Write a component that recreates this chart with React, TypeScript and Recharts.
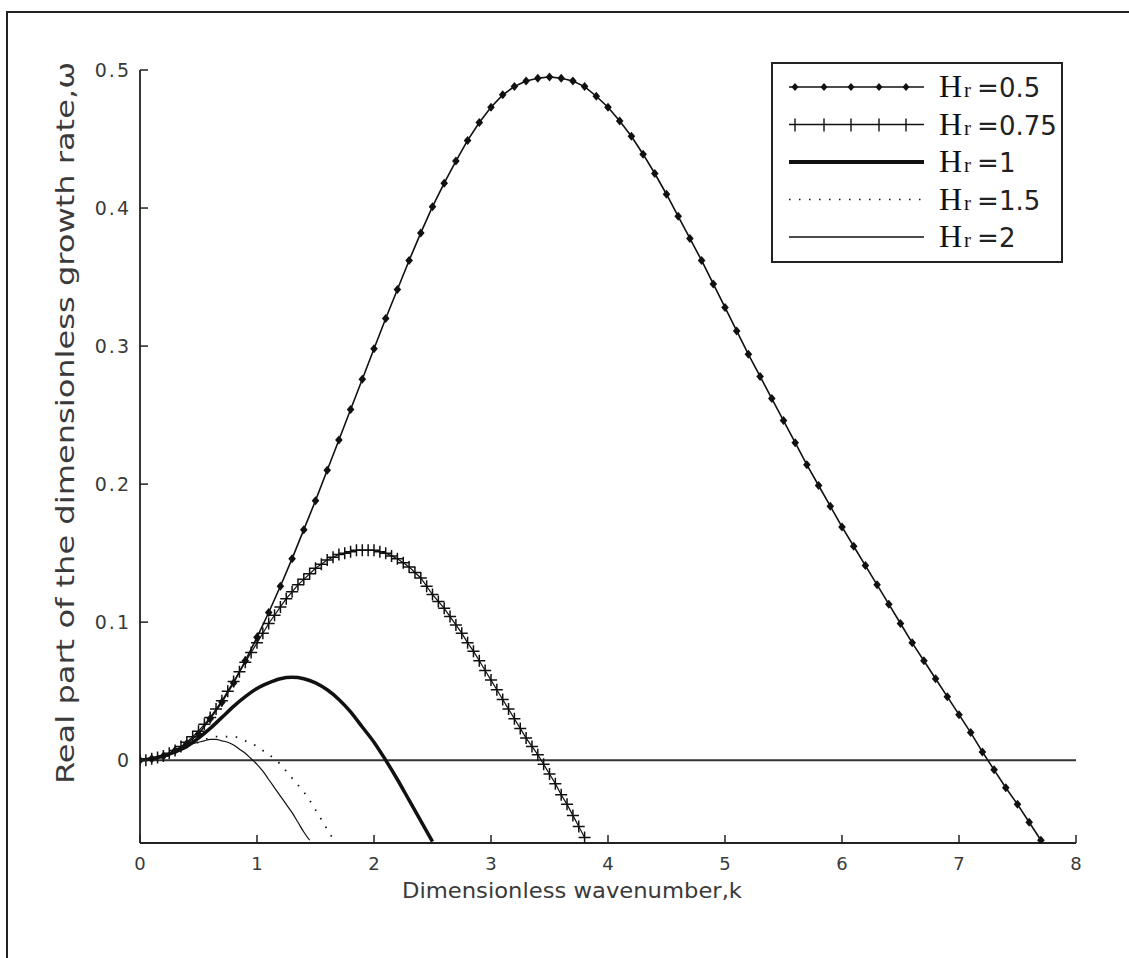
import React from "react";
import { LineChart, Line, XAxis, YAxis, ReferenceLine, Legend, Label } from "recharts";

// wavenumber grids, one per curve
const kH050 = [
  0, 0.1, 0.2, 0.3, 0.4, 0.5, 0.6, 0.7, 0.8, 0.9, 1, 1.1, 1.2, 1.3, 1.4, 1.5, 1.6, 1.7, 1.8, 1.9,
  2, 2.1, 2.2, 2.3, 2.4, 2.5, 2.6, 2.7, 2.8, 2.9, 3, 3.1, 3.2, 3.3, 3.4, 3.5, 3.6, 3.7, 3.8, 3.9,
  4, 4.1, 4.2, 4.3, 4.4, 4.5, 4.6, 4.7, 4.8, 4.9, 5, 5.1, 5.2, 5.3, 5.4, 5.5, 5.6, 5.7, 5.8, 5.9,
  6, 6.1, 6.2, 6.3, 6.4, 6.5, 6.6, 6.7, 6.8, 6.9, 7, 7.1, 7.2, 7.3, 7.4, 7.5, 7.6, 7.7,
];
const omegaH050 = [
  0, 0.001, 0.003, 0.007, 0.012, 0.019, 0.03, 0.042, 0.056, 0.072, 0.089, 0.107, 0.126, 0.146, 0.167, 0.188, 0.21, 0.232, 0.254, 0.276,
  0.298, 0.32, 0.341, 0.362, 0.382, 0.401, 0.418, 0.434, 0.449, 0.462, 0.473, 0.482, 0.488, 0.492, 0.494, 0.495, 0.494, 0.492, 0.488, 0.481,
  0.473, 0.463, 0.452, 0.439, 0.425, 0.41, 0.394, 0.378, 0.362, 0.345, 0.328, 0.311, 0.294, 0.278, 0.262, 0.246, 0.23, 0.214, 0.199, 0.184,
  0.169, 0.155, 0.141, 0.127, 0.113, 0.099, 0.085, 0.072, 0.059, 0.046, 0.033, 0.02, 0.006, -0.007, -0.02, -0.032, -0.045, -0.058,
];

const kH075 = [
  0, 0.05, 0.1, 0.15, 0.2, 0.25, 0.3, 0.35, 0.4, 0.45, 0.5, 0.55, 0.6, 0.65, 0.7, 0.75, 0.8, 0.85, 0.9, 0.95,
  1, 1.05, 1.1, 1.15, 1.2, 1.25, 1.3, 1.35, 1.4, 1.45, 1.5, 1.55, 1.6, 1.65, 1.7, 1.75, 1.8, 1.85, 1.9, 1.95,
  2, 2.05, 2.1, 2.15, 2.2, 2.25, 2.3, 2.35, 2.4, 2.45, 2.5, 2.55, 2.6, 2.65, 2.7, 2.75, 2.8, 2.85, 2.9, 2.95,
  3, 3.05, 3.1, 3.15, 3.2, 3.25, 3.3, 3.35, 3.4, 3.45, 3.5, 3.55, 3.6, 3.65, 3.7, 3.75, 3.8,
];
const omegaH075 = [
  0, 0, 0.001, 0.002, 0.003, 0.005, 0.007, 0.01, 0.013, 0.017, 0.021, 0.026, 0.031, 0.037, 0.043, 0.05, 0.057, 0.064, 0.071, 0.078,
  0.085, 0.092, 0.099, 0.105, 0.111, 0.117, 0.122, 0.127, 0.131, 0.135, 0.139, 0.142, 0.145, 0.147, 0.149, 0.15, 0.151, 0.152, 0.152, 0.152,
  0.152, 0.151, 0.15, 0.148, 0.146, 0.143, 0.14, 0.136, 0.132, 0.126, 0.12, 0.115, 0.11, 0.104, 0.098, 0.092, 0.085, 0.079, 0.072, 0.065,
  0.058, 0.051, 0.044, 0.037, 0.03, 0.023, 0.016, 0.01, 0.004, -0.003, -0.01, -0.017, -0.025, -0.032, -0.04, -0.048, -0.056,
];

const kH100 = [
  0, 0.1, 0.2, 0.3, 0.4, 0.5, 0.6, 0.7, 0.8, 0.9, 1, 1.1, 1.2, 1.3, 1.4, 1.5, 1.6, 1.7, 1.8, 1.9,
  2, 2.1, 2.2, 2.3, 2.4, 2.5,
];
const omegaH100 = [
  0, 0.001, 0.003, 0.006, 0.01, 0.016, 0.023, 0.031, 0.039, 0.046, 0.052, 0.056, 0.059, 0.06, 0.059, 0.056, 0.051, 0.044, 0.035, 0.024,
  0.013, 0, -0.014, -0.029, -0.044, -0.059,
];

const kH150 = [
  0, 0.05, 0.1, 0.15, 0.2, 0.25, 0.3, 0.35, 0.4, 0.45, 0.5, 0.55, 0.6, 0.65, 0.7, 0.75, 0.8, 0.85, 0.9, 0.95,
  1, 1.05, 1.1, 1.15, 1.2, 1.25, 1.3, 1.35, 1.4, 1.45, 1.5, 1.55, 1.6, 1.65,
];
const omegaH150 = [
  0, 0, 0.001, 0.002, 0.003, 0.005, 0.006, 0.008, 0.01, 0.012, 0.013, 0.015, 0.016, 0.017, 0.017, 0.017, 0.017, 0.016, 0.014, 0.012,
  0.01, 0.007, 0.004, 0.001, -0.003, -0.008, -0.013, -0.018, -0.023, -0.029, -0.036, -0.043, -0.05, -0.057,
];

const kH200 = [
  0, 0.05, 0.1, 0.15, 0.2, 0.25, 0.3, 0.35, 0.4, 0.45, 0.5, 0.55, 0.6, 0.65, 0.7, 0.75, 0.8, 0.85, 0.9, 0.95,
  1, 1.05, 1.1, 1.15, 1.2, 1.25, 1.3, 1.35, 1.4, 1.45,
];
const omegaH200 = [
  0, 0, 0.001, 0.002, 0.003, 0.005, 0.007, 0.009, 0.011, 0.012, 0.013, 0.014, 0.015, 0.015, 0.014, 0.013, 0.011, 0.008, 0.005, 0.001,
  -0.003, -0.008, -0.014, -0.02, -0.026, -0.032, -0.038, -0.045, -0.052, -0.058,
];

const hrValues = ["0.5", "0.75", "1", "1.5", "2"];
const xTicks = [0, 1, 2, 3, 4, 5, 6, 7, 8];
const yTicks = [0, 0.1, 0.2, 0.3, 0.4, 0.5];

const toPoints = (ks: number[], ws: number[]) => ks.map((k, i) => ({ k, w: ws[i] }));

const INK = "#111";
const TEXT = "#3a3a3a";
const SANS = "'DejaVu Sans', sans-serif";

const Diamond = (props: any) => {
  const { cx, cy, index } = props;
  if (cx == null || cy == null) return <g key={index} />;
  return (
    <path
      key={index}
      d={`M${cx} ${cy - 4.5}L${cx + 3.8} ${cy}L${cx} ${cy + 4.5}L${cx - 3.8} ${cy}Z`}
      fill={INK}
    />
  );
};

const Plus = (props: any) => {
  const { cx, cy, index } = props;
  if (cx == null || cy == null) return <g key={index} />;
  return (
    <path
      key={index}
      d={`M${cx - 6} ${cy}H${cx + 6}M${cx} ${cy - 6}V${cy + 6}`}
      stroke={INK}
      strokeWidth={1.5}
      fill="none"
    />
  );
};

// ticks point inward, MATLAB style
const XTick = ({ x, y, payload }: any) => (
  <g>
    <line x1={x} x2={x} y1={y} y2={y - 8} stroke="#222" strokeWidth={1.5} />
    <text x={x} y={y + 27} textAnchor="middle" fontSize={18} fontFamily={SANS} fill={TEXT}>
      {payload.value}
    </text>
  </g>
);

const YTick = ({ x, y, payload }: any) => (
  <g>
    <line x1={x} x2={x + 8} y1={y} y2={y} stroke="#222" strokeWidth={1.5} />
    <text x={x - 9} y={y + 7} textAnchor="end" fontSize={19} fontFamily={SANS} fill={TEXT} letterSpacing={2}>
      {payload.value}
    </text>
  </g>
);

const sampleKinds = ["diamond", "plus", "thick", "dotted", "thin"];

const LegendBox = (props: any) => {
  const entries = props.payload || [];
  const rowGap = 37.5;
  return (
    <div style={{ border: "2px solid #222", background: "#fff", width: 288, height: 197 }}>
      <svg width={288} height={197}>
        {entries.map((entry: any, i: number) => {
          const cy = 23 + i * rowGap;
          const kind = sampleKinds[i];
          const x0 = 16;
          const x1 = 151;
          const marks = [22, 51, 78, 106, 133];
          return (
            <g key={entry.value}>
              {kind === "dotted" ? (
                <line x1={x0} x2={x1} y1={cy} y2={cy} stroke={INK} strokeWidth={1.5} strokeDasharray="1.5 8.5" />
              ) : (
                <line x1={x0} x2={x1} y1={cy} y2={cy} stroke={INK} strokeWidth={kind === "thick" ? 4 : 1.5} />
              )}
              {kind === "diamond" &&
                marks.map((m) => (
                  <path key={m} d={`M${m} ${cy - 4}L${m + 3.5} ${cy}L${m} ${cy + 4}L${m - 3.5} ${cy}Z`} fill={INK} />
                ))}
              {kind === "plus" &&
                marks.map((m) => <line key={m} x1={m} x2={m} y1={cy - 6} y2={cy + 7} stroke={INK} strokeWidth={1.4} />)}
              <text y={cy + 10} fill={INK}>
                <tspan x={166} fontFamily="'Liberation Serif', serif" fontSize={32}>
                  H
                </tspan>
                <tspan dx={2} fontFamily="'Liberation Serif', serif" fontSize={21}>
                  r
                </tspan>
                <tspan dx={6} fontFamily={SANS} fontSize={26} fill="#222">
                  ={hrValues[i]}
                </tspan>
              </text>
            </g>
          );
        })}
      </svg>
    </div>
  );
};

const App = () => {
  return (
    <div style={{ position: "absolute", left: 0, top: 0, width: 1129, height: 958, overflow: "hidden", background: "#fff" }}>
      <div
        style={{
          position: "absolute",
          left: 6,
          top: 11,
          width: 1300,
          height: 1100,
          border: "2px solid #222",
        }}
      />
      <div style={{ position: "absolute", left: 0, top: 0 }}>
        <LineChart width={1129} height={958} margin={{ top: 70, right: 53, bottom: 75, left: 80 }}>
          <XAxis
            type="number"
            dataKey="k"
            domain={[0, 8]}
            ticks={xTicks}
            allowDataOverflow
            stroke="#222"
            strokeWidth={1.8}
            tickLine={false}
            tickSize={0}
            tickMargin={0}
            height={40}
            tick={<XTick />}
          >
            <Label
              content={() => (
                <text
                  x={572}
                  y={898}
                  textAnchor="middle"
                  fontSize={22}
                  fontFamily={SANS}
                  fill={TEXT}
                  textLength={340}
                  lengthAdjust="spacingAndGlyphs"
                >
                  Dimensionless wavenumber,k
                </text>
              )}
            />
          </XAxis>
          <YAxis
            type="number"
            dataKey="w"
            domain={[-0.06, 0.5]}
            ticks={yTicks}
            allowDataOverflow
            stroke="#222"
            strokeWidth={1.8}
            tickLine={false}
            tickSize={0}
            tickMargin={0}
            width={60}
            tick={<YTick />}
          >
            <Label
              content={() => (
                <text
                  x={74}
                  y={423}
                  transform="rotate(-90, 74, 423)"
                  textAnchor="middle"
                  fontSize={24}
                  fontFamily={SANS}
                  fill={TEXT}
                  textLength={722}
                  lengthAdjust="spacingAndGlyphs"
                >
                  Real part of the dimensionless growth rate,ω
                </text>
              )}
            />
          </YAxis>
          <ReferenceLine y={0} stroke="#333" strokeWidth={2} />
          <Legend
            layout="vertical"
            verticalAlign="middle"
            align="center"
            content={<LegendBox />}
            wrapperStyle={{ left: 771, top: 62, width: 292 }}
          />
          <Line
            name="Hr=0.5"
            data={toPoints(kH050, omegaH050)}
            dataKey="w"
            type="linear"
            stroke={INK}
            strokeWidth={1.6}
            dot={<Diamond />}
            activeDot={false}
            isAnimationActive={false}
          />
          <Line
            name="Hr=0.75"
            data={toPoints(kH075, omegaH075)}
            dataKey="w"
            type="linear"
            stroke={INK}
            strokeWidth={1.2}
            dot={<Plus />}
            activeDot={false}
            isAnimationActive={false}
          />
          <Line
            name="Hr=1"
            data={toPoints(kH100, omegaH100)}
            dataKey="w"
            type="monotone"
            stroke={INK}
            strokeWidth={3.5}
            dot={false}
            activeDot={false}
            isAnimationActive={false}
          />
          <Line
            name="Hr=1.5"
            data={toPoints(kH150, omegaH150)}
            dataKey="w"
            type="monotone"
            stroke={INK}
            strokeWidth={1.8}
            strokeDasharray="1.5 8.5"
            dot={false}
            activeDot={false}
            isAnimationActive={false}
          />
          <Line
            name="Hr=2"
            data={toPoints(kH200, omegaH200)}
            dataKey="w"
            type="monotone"
            stroke={INK}
            strokeWidth={1.2}
            dot={false}
            activeDot={false}
            isAnimationActive={false}
          />
        </LineChart>
      </div>
    </div>
  );
};

export default App;
